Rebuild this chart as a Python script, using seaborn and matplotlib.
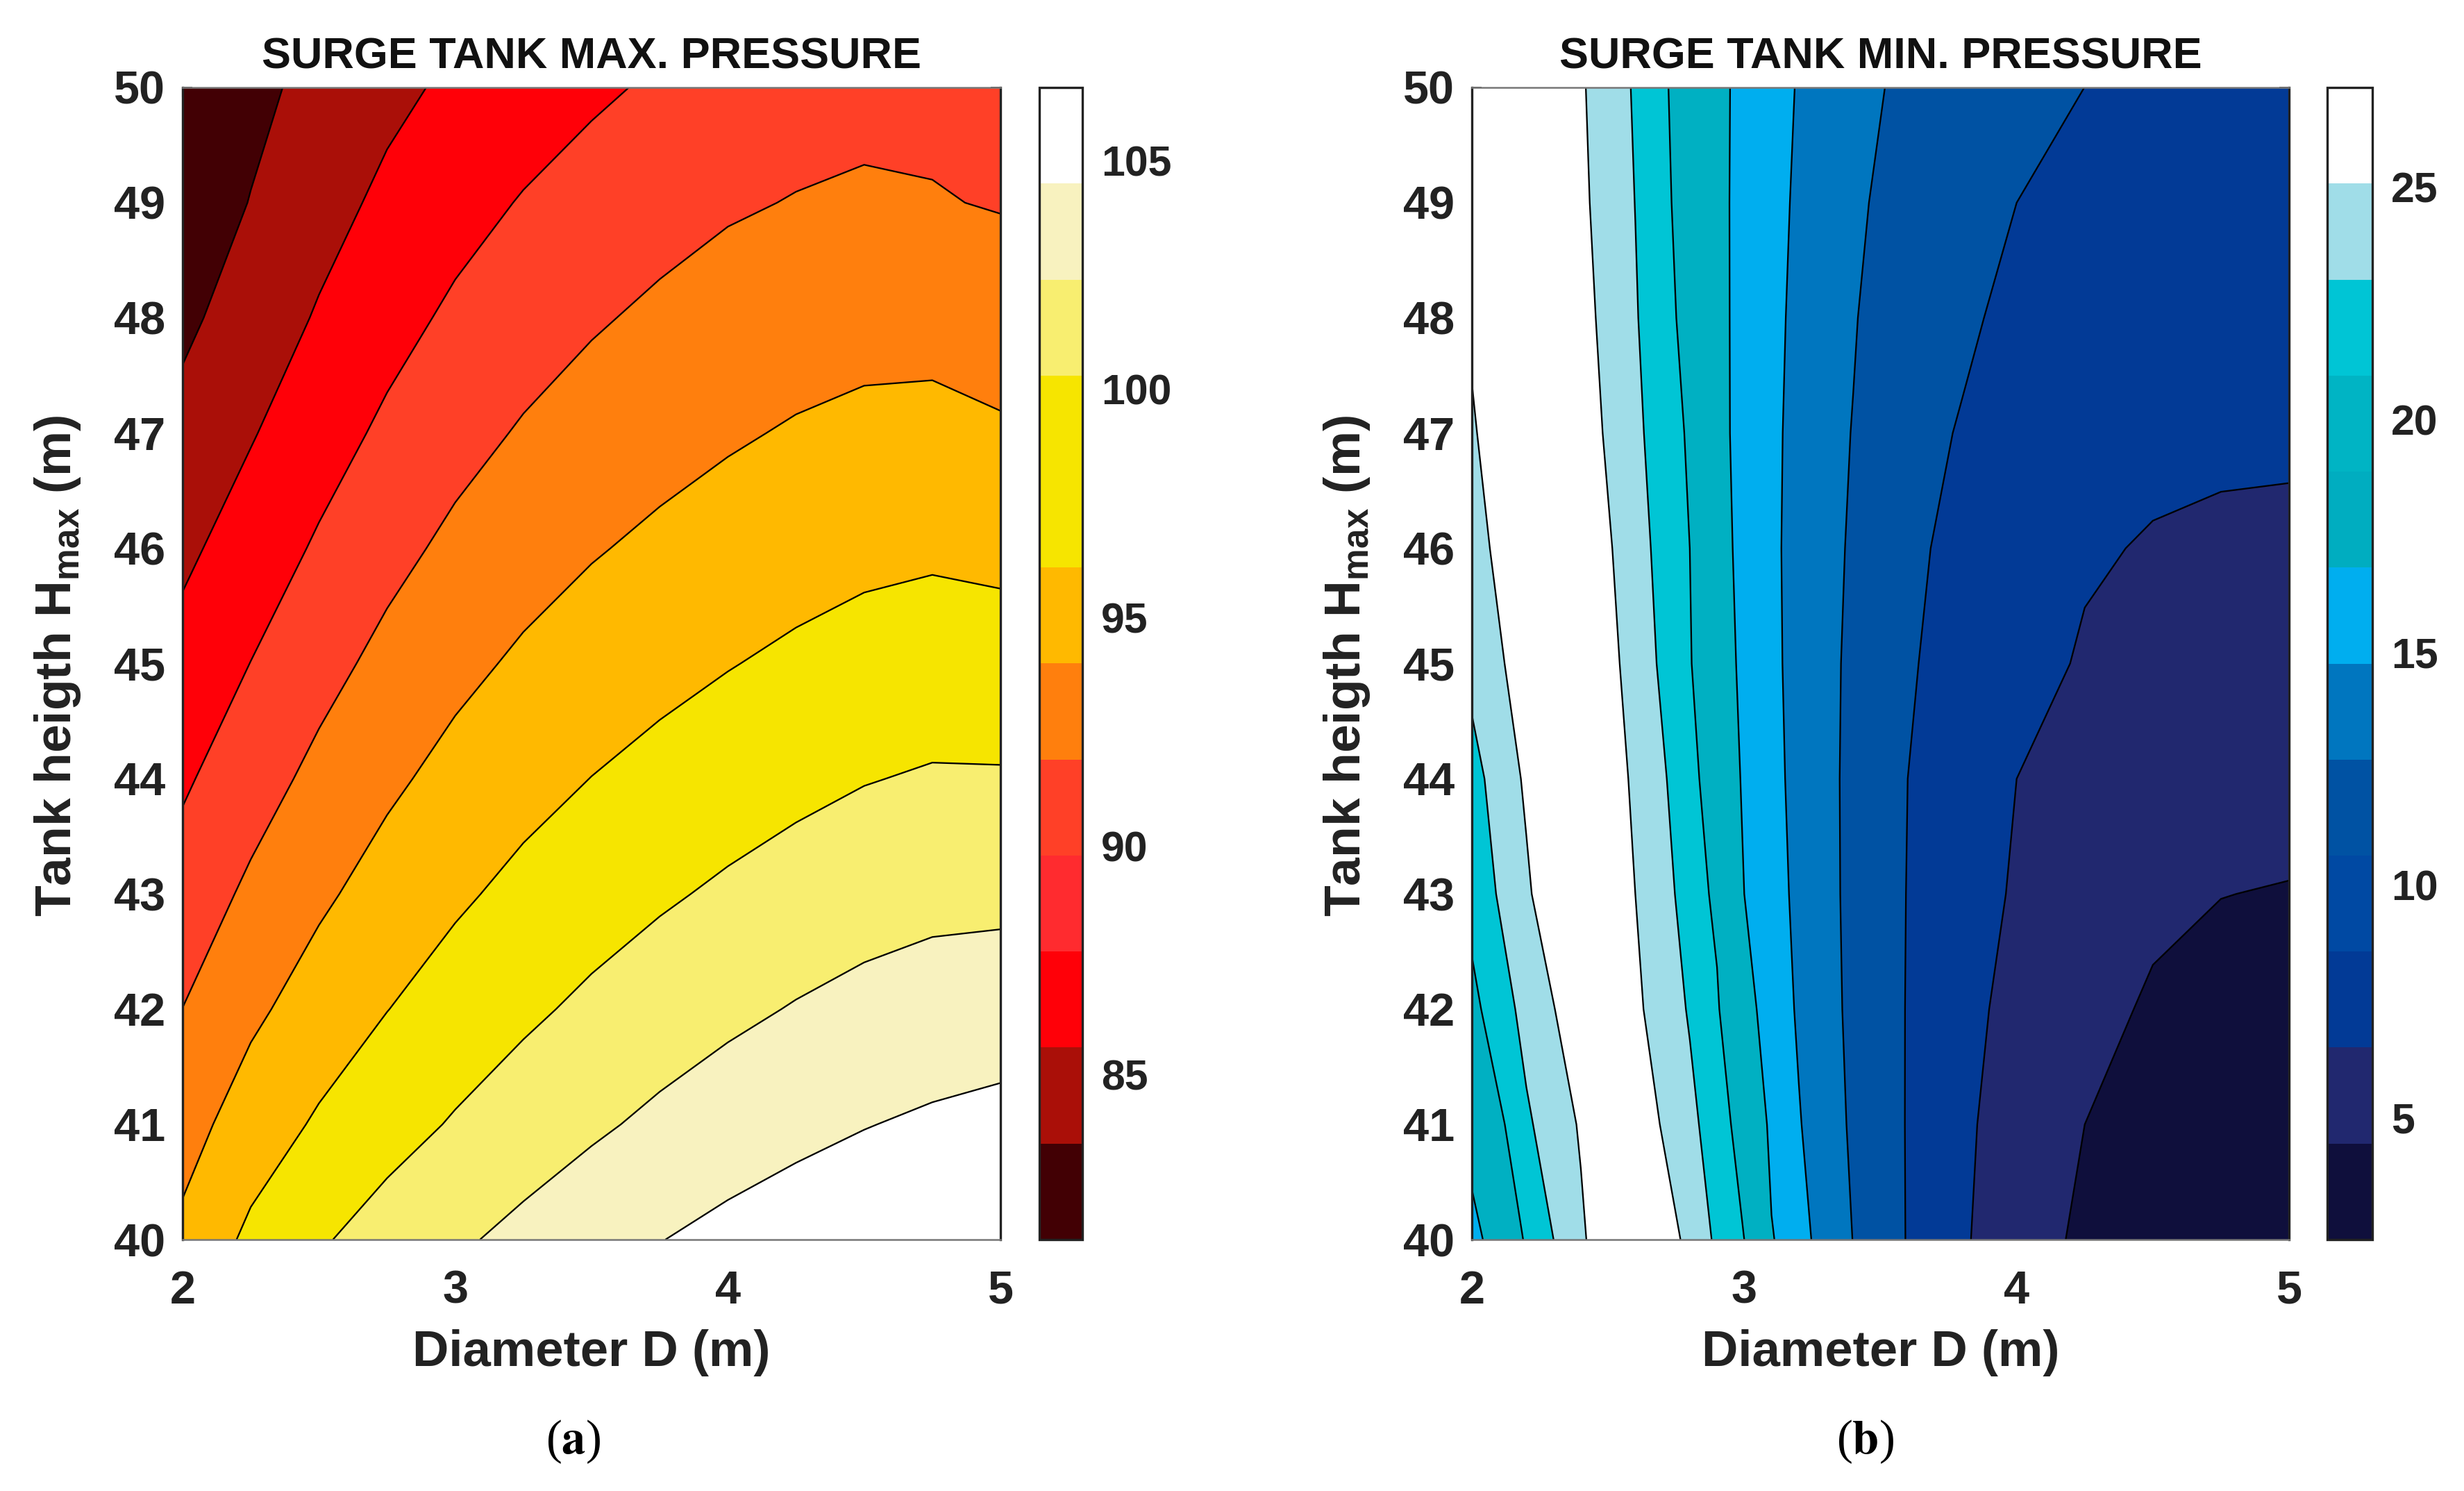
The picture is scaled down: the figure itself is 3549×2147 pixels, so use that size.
import numpy as np
import matplotlib
matplotlib.use("Agg")
import matplotlib.pyplot as plt
from matplotlib.cm import ScalarMappable
from matplotlib.colors import BoundaryNorm, ListedColormap
from matplotlib.transforms import ScaledTranslation
import seaborn as sns

# tank height rows, top of the chart first
heights = [50, 49, 48, 47, 46, 45, 44, 43, 42, 41, 40]

# max pressure, one list per height
diam_max = [2, 2.25, 2.5, 2.75, 3, 3.25, 3.5, 3.75, 4, 4.25, 4.5, 4.75, 5]
pmax_h50 = [81.50, 83.16, 84.57, 85.76, 86.77, 87.66, 88.46, 89.19, 89.86, 90.43, 90.83, 90.90, 90.53]
pmax_h49 = [82.25, 83.90, 85.46, 86.84, 88.02, 89.01, 89.84, 90.53, 91.12, 91.48, 91.65, 91.50, 91.25]
pmax_h48 = [83.32, 84.94, 86.56, 88.03, 89.28, 90.30, 91.13, 91.81, 92.37, 92.82, 93.10, 93.11, 92.61]
pmax_h47 = [84.55, 86.17, 87.82, 89.31, 90.58, 91.60, 92.41, 93.07, 93.63, 94.11, 94.46, 94.57, 94.21]
pmax_h46 = [85.84, 87.50, 89.16, 90.66, 91.91, 92.92, 93.72, 94.37, 94.94, 95.45, 95.86, 96.07, 95.85]
pmax_h45 = [87.17, 88.89, 90.57, 92.04, 93.28, 94.27, 95.06, 95.73, 96.32, 96.86, 97.32, 97.59, 97.48]
pmax_h44 = [88.52, 90.33, 92.00, 93.45, 94.65, 95.64, 96.45, 97.14, 97.77, 98.34, 98.84, 99.16, 99.14]
pmax_h43 = [89.93, 91.83, 93.48, 94.88, 96.05, 97.04, 97.88, 98.63, 99.31, 99.92, 100.45, 100.81, 100.89]
pmax_h42 = [91.40, 93.41, 95.03, 96.38, 97.52, 98.51, 99.41, 100.22, 100.95, 101.60, 102.15, 102.55, 102.75]
pmax_h41 = [92.93, 95.10, 96.73, 98.03, 99.15, 100.15, 101.09, 101.95, 102.72, 103.37, 103.90, 104.32, 104.67]
pmax_h40 = [94.44, 96.94, 98.67, 99.98, 101.09, 102.11, 103.06, 103.92, 104.64, 105.20, 105.62, 105.97, 106.45]

# min pressure, one list per height
diam_min = [2, 2.2, 2.4, 2.6, 2.8, 2.9, 3, 3.1, 3.2, 3.4, 3.6, 3.8, 4, 4.25, 4.5, 4.75, 5]
pmin_h50 = [26.0, 26.2, 25.22, 22.71, 19.67, 17.2, 16.22, 15.36, 14.55, 13.32, 12.1, 11.01, 9.88, 8.47, 7.3, 7.2, 7.1]
pmin_h49 = [25.6, 26.2, 25.4, 22.89, 19.84, 17.2, 16.17, 15.23, 14.4, 13.02, 11.6, 10.01, 8.48, 7.5, 7.1, 7.0, 7.0]
pmin_h48 = [25.2, 26.0, 25.71, 23.08, 20.13, 17.25, 16.13, 15.12, 14.26, 12.76, 11.0, 8.76, 8.06, 7.5, 7.1, 6.95, 6.9]
pmin_h47 = [24.83, 26.5, 26.08, 23.36, 20.58, 17.3, 16.1, 15.04, 14.14, 12.53, 9.05, 8.36, 7.7, 7.1, 6.8, 6.7, 6.68]
pmin_h46 = [23.8, 27.4, 26.7, 23.74, 20.86, 17.5, 16.16, 15.01, 14.07, 12.35, 8.72, 8.15, 7.57, 6.6, 6.3, 6.15, 6.08]
pmin_h45 = [23.5, 25.98, 27.2, 24.1, 21.08, 17.9, 16.23, 15.08, 14.06, 12.19, 8.64, 7.84, 7.04, 6.25, 5.9, 5.6, 5.48]
pmin_h44 = [22.2, 25.3, 27.7, 24.59, 21.7, 19.3, 16.3, 15.22, 14.12, 12.11, 8.48, 7.45, 6.42, 5.75, 5.3, 5.0, 4.88]
pmin_h43 = [21.52, 24.67, 27.9, 24.99, 22.14, 20.32, 16.73, 15.44, 14.24, 12.1, 8.36, 7.15, 6.24, 5.67, 4.75, 4.37, 4.28]
pmin_h42 = [20.3, 23.59, 26.26, 25.39, 22.73, 21.17, 17.5, 15.81, 14.44, 12.15, 8.29, 6.9, 5.93, 4.99, 4.1, 3.9, 3.7]
pmin_h41 = [18.2, 22.6, 25.2, 26.25, 23.45, 21.87, 19.9, 16.1, 14.8, 12.3, 8.27, 6.73, 5.61, 4.35, 3.5, 3.2, 3.1]
pmin_h40 = [15.6, 21.19, 24.65, 28.0, 24.37, 22.56, 20.86, 16.9, 15.3, 12.57, 8.3, 6.62, 5.38, 3.95, 3.1, 2.7, 2.5]

# colour bar bands, lowest first
bar_levels_max = [81.3, 83.4, 85.5, 87.6, 89.7, 91.8, 93.9, 96.0, 98.1, 100.2, 102.3, 104.4, 106.5]
bar_colors_max = ["#420004", "#aa0f08", "#ff0008", "#ff2b2f", "#ff4027", "#ff7f0d",
                  "#ffb900", "#f6e500", "#f6e500", "#f8ee70", "#f8f2bf", "#ffffff"]
bar_ticks_max = [85, 90, 95, 100, 105]

bar_levels_min = [2.29, 4.35, 6.42, 8.48, 10.54, 12.61, 14.67, 16.73, 18.8, 20.86, 22.92, 24.99, 27.05]
bar_colors_min = ["#0f0f3c", "#21286f", "#023a96", "#0049a3", "#0052a3", "#0076bf",
                  "#00aeef", "#00adc0", "#00b4c4", "#00c5d5", "#a0dde8", "#ffffff"]
bar_ticks_min = [5, 10, 15, 20, 25]

# the plots show 10 bands, the bars 12
fill_levels_max = [80, 83.82, 86.34, 88.86, 91.38, 93.9, 96.42, 98.94, 101.46, 103.98, 107]
fill_colors_max = ["#420004", "#aa0f08", "#ff0008", "#ff4027", "#ff7f0d",
                   "#ffb900", "#f6e500", "#f8ee70", "#f8f2bf", "#ffffff"]
fill_levels_min = [2.29, 4.35, 6.42, 8.48, 12.61, 14.67, 16.73, 20.86, 22.92, 24.99, 30]
fill_colors_min = ["#0f0f3c", "#21286f", "#023a96", "#0052a3", "#0076bf",
                   "#00aeef", "#00b0c2", "#00c5d5", "#a0dde8", "#ffffff"]

WIDTH, HEIGHT = 3549, 2147
TEXT = "#222222"

sns.set_theme(style="white")
plt.rcParams["font.family"] = ["Liberation Sans", "DejaVu Sans"]
plt.rcParams["font.weight"] = "bold"
plt.rcParams["mathtext.fontset"] = "custom"
plt.rcParams["mathtext.bf"] = "Liberation Sans:bold"
plt.rcParams["mathtext.rm"] = "Liberation Sans:bold"


def box(x0, x1, y0, y1):
    # pixel box of the reference, measured from the top left corner
    return [x0 / WIDTH, 1 - y1 / HEIGHT, (x1 - x0) / WIDTH, (y1 - y0) / HEIGHT]


def draw_panel(fig, ax_box, cax_box, x, y, z, levels, colors, bar_levels, bar_colors, bar_ticks, title, tag, tag_x):
    ax = fig.add_axes(box(*ax_box))
    ax.contourf(x, y, z, levels=levels, colors=list(sns.color_palette(colors)))
    ax.contour(x, y, z, levels=levels[1:-1], colors="black", linewidths=0.55)

    ax.set_xlim(2, 5)
    ax.set_ylim(40, 50)
    ax.set_xticks([2, 3, 4, 5])
    ax.set_yticks(range(40, 51))
    ax.tick_params(direction="in", length=3.4, width=0.5, top=True, right=True, bottom=True, left=True,
                   color=TEXT, labelcolor=TEXT, labelsize=16)
    ax.tick_params(axis="x", pad=10.5)
    ax.tick_params(axis="y", pad=6)
    for side in ["left", "right"]:
        ax.spines[side].set(color=TEXT, linewidth=0.8)
    for side in ["top", "bottom"]:
        ax.spines[side].set(color="#777777", linewidth=0.6)

    ax.set_title(title, fontsize=15.1, fontweight="bold", color="#111111", pad=6.5)
    ax.set_xlabel("Diameter D (m)", fontsize=17.4, fontweight="bold", color=TEXT, va="center")
    ax.set_ylabel(r"Tank heigth H$_{\mathbf{max}}$ (m)", fontsize=17.6, fontweight="bold", color=TEXT, va="center")
    ax.xaxis.set_label_coords(0.5, -0.098)
    ax.yaxis.set_label_coords(-0.153, 0.498)

    cax = fig.add_axes(box(*cax_box))
    cmap = ListedColormap(sns.color_palette(bar_colors))
    norm = BoundaryNorm(bar_levels, cmap.N)
    cbar = fig.colorbar(ScalarMappable(norm=norm, cmap=cmap), cax=cax, spacing="proportional", ticks=bar_ticks)
    cbar.ax.minorticks_off()
    cbar.ax.tick_params(direction="in", length=3.4, width=0.5, color=TEXT, labelcolor=TEXT, labelsize=14.6, pad=6.5)
    cbar.outline.set_edgecolor(TEXT)
    cbar.outline.set_linewidth(0.8)
    # labels sit a little under their ticks in the original
    shift = ScaledTranslation(0, -1.5 / 72, fig.dpi_scale_trans)
    for label in cbar.ax.get_yticklabels():
        label.set_transform(label.get_transform() + shift)

    fig.text(tag_x / WIDTH, 1 - 2076 / HEIGHT, "(" + r"$\mathbf{" + tag + "}$" + ")", family="Liberation Serif",
             math_fontfamily="stix", fontweight="normal", fontsize=16.5, color="black", ha="center", va="center")
    return ax


fig = plt.figure(figsize=(WIDTH / 300, HEIGHT / 300), dpi=300, facecolor="white")

z_max = np.array([pmax_h50, pmax_h49, pmax_h48, pmax_h47, pmax_h46, pmax_h45,
                  pmax_h44, pmax_h43, pmax_h42, pmax_h41, pmax_h40])
z_min = np.array([pmin_h50, pmin_h49, pmin_h48, pmin_h47, pmin_h46, pmin_h45,
                  pmin_h44, pmin_h43, pmin_h42, pmin_h41, pmin_h40])
h = np.array(heights)[::-1]

draw_panel(fig, (263, 1441, 126, 1785), (1497, 1559, 126, 1785), diam_max, h, z_max[::-1],
           fill_levels_max, fill_colors_max, bar_levels_max, bar_colors_max, bar_ticks_max,
           "SURGE TANK MAX. PRESSURE", "a", 826)
draw_panel(fig, (2120, 3297, 126, 1785), (3352, 3417, 126, 1785), diam_min, h, z_min[::-1],
           fill_levels_min, fill_colors_min, bar_levels_min, bar_colors_min, bar_ticks_min,
           "SURGE TANK MIN. PRESSURE", "b", 2686)

fig.savefig("out.png", dpi=300, facecolor="white")
